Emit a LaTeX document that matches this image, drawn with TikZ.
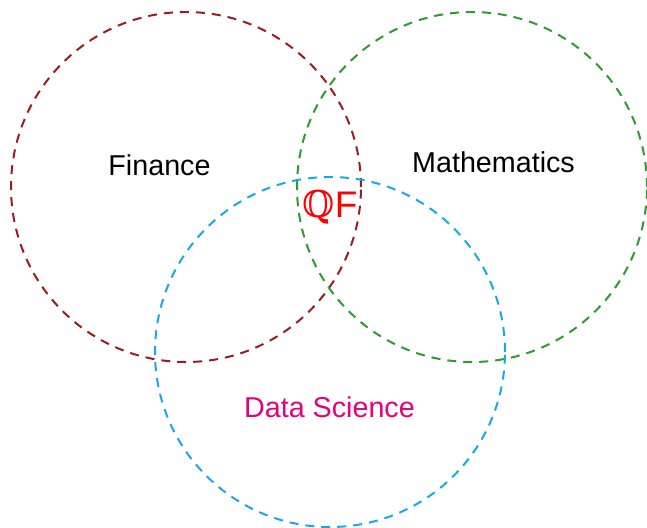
\documentclass[tikz,border=0pt]{standalone}
\usepackage{fontspec}
\setmainfont{Liberation Sans}
\newfontfamily\bbfont{DejaVu Serif}
\definecolor{finred}{HTML}{9B1C20}
\definecolor{mathgreen}{HTML}{2E9B30}
\definecolor{dsblue}{HTML}{17A9E6}
\definecolor{dsmag}{HTML}{E6007E}
\definecolor{qfred}{HTML}{FF0000}
\tikzset{
  venn/.style={draw, line width=2pt, dash pattern=on 9pt off 7pt, circle, minimum size=350pt, inner sep=0pt},
  lbl/.style={font=\fontsize{28.7}{34}\selectfont, inner sep=0pt}
}
\begin{document}
\begin{tikzpicture}[x=1pt,y=-1pt]
\useasboundingbox (0,0) rectangle (647,527);
\node[venn, finred] (fin) at (186,187) {};
\node[venn, mathgreen] (mat) at (472,187) {};
\node[venn, dsblue] (ds) at (330,352) {};
\node[lbl] (finlbl) at (159.5,165) {Finance};
\node[lbl] (matlbl) at (493.5,162) {Mathematics};
\node[lbl, text=dsmag] (dslbl) at (329.5,407) {Data Science};
\node[lbl, text=qfred, font=\fontsize{37}{44}\selectfont] (qf) at (330,207) {{\bbfont ℚ}F};
\end{tikzpicture}
\end{document}
